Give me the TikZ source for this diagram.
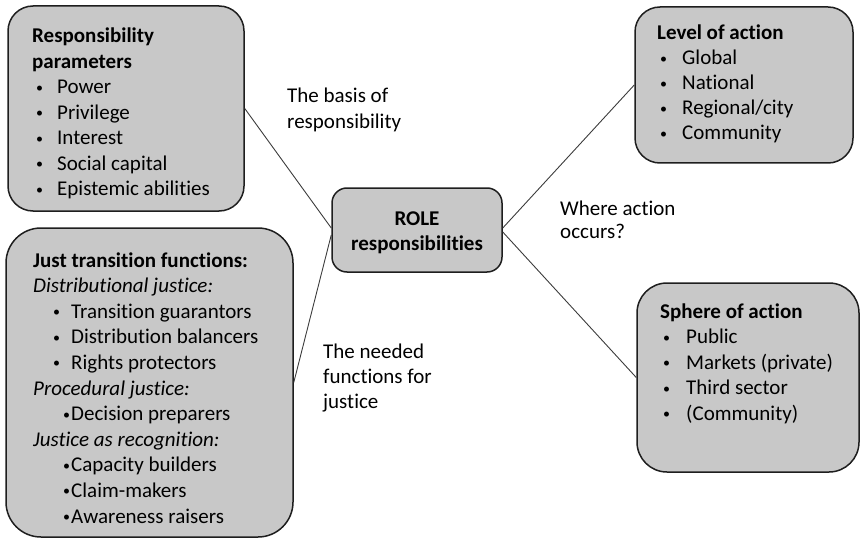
\documentclass[tikz,border=0pt]{standalone}
\usepackage{fontspec}
\setmainfont{Carlito}[Ligatures=NoCommon]
\definecolor{boxfill}{RGB}{200,200,200}
\definecolor{boxline}{RGB}{30,30,30}
\definecolor{linkline}{RGB}{60,60,60}
\newcommand\smbul{\raisebox{1.6pt}{\fontsize{14}{14}\selectfont •}}
\newcommand\itm[3]{\hspace*{#1}\makebox[#2][l]{\smbul}#3}
\tikzset{
  box/.style={draw=boxline, fill=boxfill, line width=1.5pt, inner sep=0pt},
  txt/.style={inner sep=0pt, anchor=base west, font=\fontsize{21}{25.5}\selectfont},
  link/.style={draw=linkline, line width=0.9pt}
}
\begin{document}
\begin{tikzpicture}[x=1pt,y=-1pt]
\useasboundingbox (0,0) rectangle (861,540);
% boxes
\node[box, rounded corners=25pt, minimum width=236pt, minimum height=205pt] (params) at (126,108.5) {};
\node[box, rounded corners=35pt, minimum width=287pt, minimum height=309pt] (just) at (149.5,382.5) {};
\node[box, rounded corners=15pt, minimum width=170pt, minimum height=84pt] (role) at (417,230) {};
\node[box, rounded corners=25pt, minimum width=218pt, minimum height=156pt] (level) at (744,85) {};
\node[box, rounded corners=30pt, minimum width=222pt, minimum height=189pt] (sphere) at (748,377.5) {};
% texts
\node[txt] (paramsT) at (32,43) {\begin{tabular}[t]{@{}l@{}}
\textbf{Responsibility}\\
\textbf{parameters}\\
\itm{4pt}{21pt}{Power}\\
\itm{4pt}{21pt}{Privilege}\\
\itm{4pt}{21pt}{Interest}\\
\itm{4pt}{21pt}{Social capital}\\
\itm{4pt}{21pt}{Epistemic abilities}
\end{tabular}};
\node[txt, font=\fontsize{21}{25.6}\selectfont] (justT) at (33,267) {\begin{tabular}[t]{@{}l@{}}
\textbf{Just transition functions:}\\
\textit{Distributional justice:}\\
\itm{20pt}{18pt}{Transition guarantors}\\
\itm{20pt}{18pt}{Distribution balancers}\\
\itm{20pt}{18pt}{Rights protectors}\\
\textit{Procedural justice:}\\
\itm{30pt}{8pt}{Decision preparers}\\
\textit{Justice as recognition:}\\
\itm{30pt}{8pt}{Capacity builders}\\
\itm{30pt}{8pt}{Claim-makers}\\
\itm{30pt}{8pt}{Awareness raisers}
\end{tabular}};
\node[txt, anchor=base, font=\fontsize{21}{25}\selectfont] (roleT) at (417,225) {\begin{tabular}[t]{@{}c@{}}
\textbf{ROLE}\\
\textbf{responsibilities}
\end{tabular}};
\node[txt, font=\fontsize{21}{25}\selectfont] (levelT) at (657,40) {\begin{tabular}[t]{@{}l@{}}
\textbf{Level of action}\\
\itm{3pt}{22pt}{Global}\\
\itm{3pt}{22pt}{National}\\
\itm{3pt}{22pt}{Regional/city}\\
\itm{3pt}{22pt}{Community}
\end{tabular}};
\node[txt, font=\fontsize{21}{25.6}\selectfont] (sphereT) at (660,318) {\begin{tabular}[t]{@{}l@{}}
\textbf{Sphere of action}\\
\itm{3pt}{23pt}{Public}\\
\itm{3pt}{23pt}{Markets (private)}\\
\itm{3pt}{23pt}{Third sector}\\
\itm{3pt}{23pt}{(Community)}
\end{tabular}};
% labels
\node[txt] (lbasis) at (287,103) {\begin{tabular}[t]{@{}l@{}}The basis of\\responsibility\end{tabular}};
\node[txt, font=\fontsize{21}{23.5}\selectfont] (lwhere) at (560,215) {\begin{tabular}[t]{@{}l@{}}Where action\\occurs?\end{tabular}};
\node[txt, font=\fontsize{21}{25}\selectfont] (lneeded) at (323,358) {\begin{tabular}[t]{@{}l@{}}The needed\\functions for\\justice\end{tabular}};
% connectors
\draw[link] (params.east) -- ([yshift=2pt]role.west);
\draw[link] (just.east) -- ([yshift=-5pt]role.west);
\draw[link] ([yshift=2pt]role.east) -- (level.west);
\draw[link] ([yshift=-2pt]role.east) -- (sphere.west);
\end{tikzpicture}
\end{document}
